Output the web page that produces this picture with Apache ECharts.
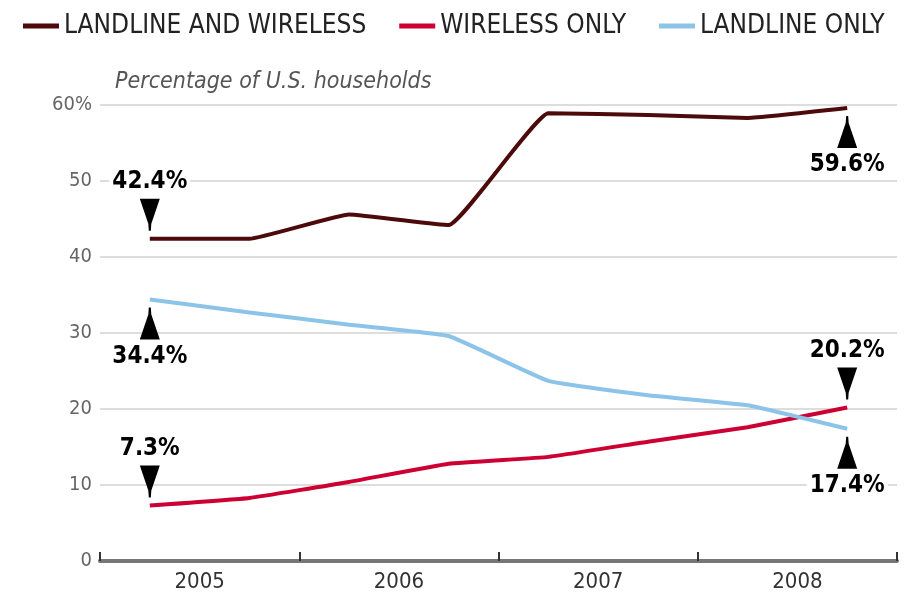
<!DOCTYPE html>
<html>
<head>
<meta charset="utf-8">
<script src="https://cdn.jsdelivr.net/npm/echarts@6/dist/echarts.min.js"></script>
<style>
html,body{margin:0;padding:0;background:#fff;}
#c{width:909px;height:595px;}
</style>
</head>
<body>
<div id="c"></div>
<script>
const years = ['2005', '2006', '2007', '2008'];
const halfYears = ['2005 H1', '2005 H2', '2006 H1', '2006 H2', '2007 H1', '2007 H2', '2008 H1', '2008 H2'];
const landlineAndWireless = [42.4, 42.4, 45.6, 44.2, 58.9, 58.7, 58.3, 59.6];
const wirelessOnly = [7.3, 8.3, 10.4, 12.8, 13.7, 15.7, 17.6, 20.2];
const landlineOnly = [34.4, 32.7, 31.1, 29.6, 23.7, 21.8, 20.5, 17.4];
const seriesNames = ['LANDLINE AND WIRELESS', 'WIRELESS ONLY', 'LANDLINE ONLY'];
const yTicks = [0, 10, 20, 30, 40, 50, 60];

const FONT = '"Liberation Sans Narrow", "DejaVu Sans Condensed", "Liberation Sans", sans-serif';
const DOWN = 'path://M0,0 L20,0 L11.5,25 L11,32 L9,32 L8.5,25 Z';
const UP = 'path://M9,0 L11,0 L11.5,7 L20,32 L0,32 L8.5,7 Z';

function callout(idx, val, dir) {
  const down = dir === 'down';
  return {
    coord: [idx, val],
    value: val,
    symbol: down ? DOWN : UP,
    symbolSize: [20, 32],
    symbolOffset: [0, down ? -24 : 24],
    itemStyle: { color: '#000' },
    label: {
      show: true,
      position: down ? 'top' : 'bottom',
      distance: 5,
      formatter: function (p) { return Number(p.value).toFixed(1) + '%'; },
      color: '#000',
      fontFamily: FONT,
      fontWeight: 'bold',
      fontSize: 24,
      backgroundColor: '#fff',
      padding: [0, 3]
    }
  };
}

function makeSeries(name, data, color, marks) {
  return {
    name: name,
    type: 'line',
    xAxisIndex: 1,
    data: data,
    symbol: 'none',
    smooth: 0.1,
    lineStyle: { color: color, width: 4 },
    itemStyle: { color: color },
    z: 3,
    markPoint: {
      silent: true,
      z: 5,
      data: marks
    }
  };
}

const chart = echarts.init(document.getElementById('c'));
chart.setOption({
  animation: false,
  backgroundColor: '#fff',
  title: {
    text: 'Percentage of U.S. households',
    left: 110,
    top: 66,
    textStyle: { fontFamily: FONT, fontStyle: 'italic', fontWeight: 'normal', fontSize: 23, color: '#555' }
  },
  legend: {
    left: 18,
    top: 8,
    icon: 'rect',
    itemWidth: 36,
    itemHeight: 5,
    itemGap: 33,
    textStyle: { fontFamily: FONT, fontSize: 26, color: '#222' },
    data: seriesNames
  },
  grid: { left: 100, right: 12, top: 105, bottom: 34 },
  xAxis: [
    {
      type: 'category',
      data: years,
      boundaryGap: true,
      position: 'bottom',
      axisLine: { show: true, lineStyle: { color: '#777', width: 4 } },
      axisTick: { show: true, inside: true, length: 9, lineStyle: { color: '#333', width: 2 } },
      axisLabel: { fontFamily: FONT, fontSize: 22, color: '#333', margin: 10 },
      splitLine: { show: false }
    },
    {
      type: 'category',
      data: halfYears,
      boundaryGap: true,
      show: false
    }
  ],
  yAxis: {
    type: 'value',
    min: yTicks[0],
    max: yTicks[yTicks.length - 1],
    interval: 10,
    axisLine: { show: false },
    axisTick: { show: false },
    axisLabel: {
      fontFamily: FONT, fontSize: 20, color: '#666', margin: 8,
      formatter: function (v) { return v === 60 ? '60%' : String(v); }
    },
    splitLine: { show: true, lineStyle: { color: '#ddd', width: 2 } }
  },
  series: [
    makeSeries(seriesNames[0], landlineAndWireless, '#4d0a0a', [
      callout(0, landlineAndWireless[0], 'down'),
      callout(7, landlineAndWireless[7], 'up')
    ]),
    makeSeries(seriesNames[1], wirelessOnly, '#cc0033', [
      callout(0, wirelessOnly[0], 'down'),
      callout(7, wirelessOnly[7], 'down')
    ]),
    makeSeries(seriesNames[2], landlineOnly, '#8cc3e8', [
      callout(0, landlineOnly[0], 'up'),
      callout(7, landlineOnly[7], 'up')
    ])
  ]
});
</script>
</body>
</html>
